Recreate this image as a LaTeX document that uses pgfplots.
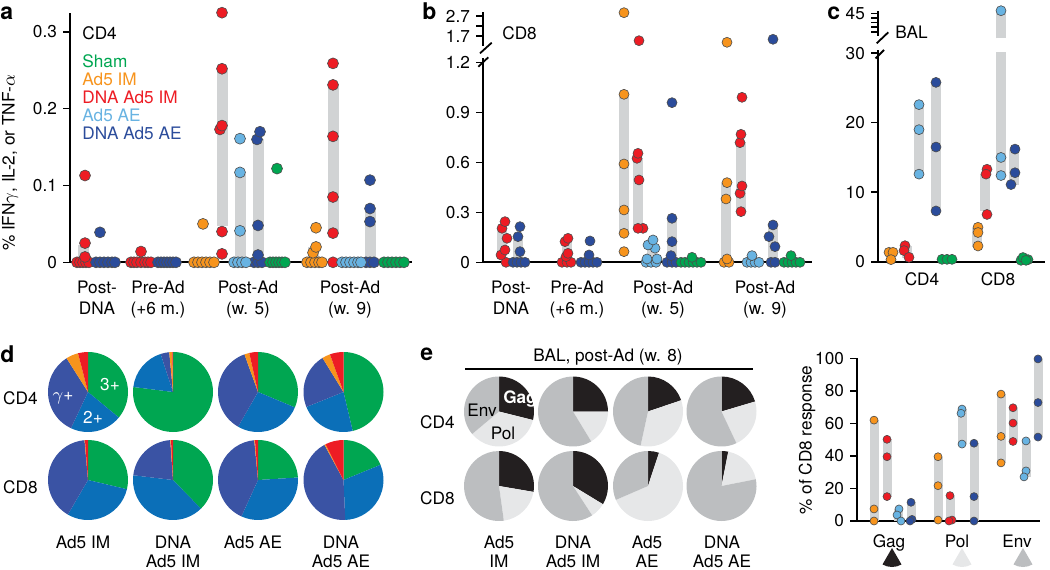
\documentclass[border=0pt]{standalone}
\usepackage{pgfplots}
\pgfplotsset{compat=1.18}
\usepackage{fontspec}
\setmainfont{TeX Gyre Heros}
\newcommand\fs{\fontsize{8.6}{9.6}\selectfont}
\definecolor{cgreen}{HTML}{00A651}
\definecolor{corange}{HTML}{F7941D}
\definecolor{cred}{HTML}{ED1C24}
\definecolor{clblue}{HTML}{68B3E2}
\definecolor{cdblue}{HTML}{2B4C9B}
\definecolor{pblue}{HTML}{0B6FB8}
\definecolor{pdblue}{HTML}{3A53A4}
\definecolor{gbar}{HTML}{D1D3D4}
\definecolor{gag}{HTML}{231F20}
\definecolor{pol}{HTML}{E6E7E8}
\definecolor{env}{HTML}{BCBEC0}
\pgfplotsset{
  base/.style={scale only axis, axis lines=left, axis line style={-, line width=0.9pt},
    clip=false, tick align=outside, major tick length=3.5pt,
    ytick style={line width=0.8pt, black}, xtick style={draw=none},
    scaled ticks=false, /pgf/number format/assume math mode=true,
    tick label style={font=\fs}, xticklabel style={align=center, yshift=1pt}},
  twoline/.style={xticklabel style={font=\fontsize{8.6}{10.2}\selectfont, yshift=-4pt}},
  upper/.style={base, x axis line style={draw=none}, xtick=\empty},
  dt/.style 2 args={only marks, mark=*, mark size=#2, mark options={fill=#1, draw=black!70, line width=0.3pt}},
}
\newcommand\gb[4]{\addplot[draw=gbar, line width=#4, forget plot] coordinates {(#1,#2) (#1,#3)};}
\newcommand\pie[4]{%
  \gdef\pieS{90}%
  \foreach \v/\c in {#4}{%
    \pgfmathsetmacro\pieE{\pieS-3.6*\v}%
    \fill[color=\c] (#1,#2) -- ++(\pieS:#3) arc[start angle=\pieS, end angle=\pieE, radius=#3] -- cycle;%
    \xdef\pieS{\pieE}%
  }%
}
\begin{document}
\fs
\begin{tikzpicture}
\useasboundingbox (0,0) rectangle (525pt,284.5pt);

% ---------------- panel a ----------------
\begin{axis}[base, twoline, at={(35pt,153.35pt)}, anchor=south west, width=171pt, height=124.65pt,
  xmin=70, xmax=412, ymin=0, ymax=0.3246, ytick={0,0.1,0.2,0.3},
  xtick={97,158,248,350}, xticklabels={{Post-\\DNA},{Pre-Ad\\(+6 m.)},{Post-Ad\\(w. 5)},{Post-Ad\\(w. 9)}}]
\gb{83}{0}{0.022}{5.5pt}
\gb{222}{0.047}{0.25}{5.5pt}
\gb{240}{0}{0.115}{5.5pt}
\gb{258}{0}{0.16}{5.5pt}
\gb{313}{0}{0.02}{5.5pt}
\gb{333}{0.04}{0.23}{5.5pt}
\gb{370}{0}{0.07}{5.5pt}
\addplot[dt={cred}{2.75pt}] coordinates {(77,0) (80,0) (83,0) (86,0) (89,0) (85,0.007) (85,0.025) (85,0.113)
  (131,0) (134,0) (137,0) (141,0) (145,0) (148,0) (151,0) (141,0.014)
  (222,0.011) (222,0.040) (220,0.173) (222,0.178) (222,0.252) (222,0.325)
  (333,0) (333,0.038) (333,0.085) (333,0.164) (333,0.231) (333,0.259)};
\addplot[dt={cdblue}{2.75pt}] coordinates {(96,0) (100,0) (104,0) (108,0) (112,0) (115,0) (100,0.039)
  (158,0) (161,0) (164,0) (167,0) (170,0) (173,0) (176,0)
  (254,0) (258,0) (262,0) (258,0.0095) (258,0.048) (257,0.160) (260,0.170)
  (366,0) (370,0) (374,0) (370,0.053) (370,0.070) (370,0.107)};
\addplot[dt={corange}{2.75pt}] coordinates {(194,0) (198,0) (202,0) (206,0) (210,0) (214,0) (203,0.050)
  (307,0) (311,0) (315,0) (319,0) (322,0) (313,0.0125) (316,0.020) (316,0.045)};
\addplot[dt={clblue}{2.75pt}] coordinates {(234,0) (238,0) (242,0) (246,0) (240,0.041) (240,0.117) (240,0.161)
  (342,0) (346,0) (350,0) (354,0) (358,0) (361,0)};
\addplot[dt={cgreen}{2.75pt}] coordinates {(270,0) (273,0) (276,0) (279,0) (282,0) (285,0) (277,0.122)
  (384,0) (388,0) (392,0) (396,0) (400,0) (404,0)};
\end{axis}

% ---------------- panel b ----------------
\begin{axis}[base, twoline, at={(241.5pt,153.35pt)}, anchor=south west, width=164.5pt, height=102.15pt,
  xmin=483, xmax=812, ymin=0, ymax=1.226, ytick={0,0.3,0.6,0.9,1.2},
  xtick={511,577,663,765}, xticklabels={{Post-\\DNA},{Pre-Ad\\(+6 m.)},{Post-Ad\\(w. 5)},{Post-Ad\\(w. 9)}}]
\gb{502}{0.04}{0.2}{5pt}
\gb{518}{0}{0.15}{5pt}
\gb{567}{0}{0.124}{5pt}
\gb{624}{0.174}{1.008}{5pt}
\gb{638}{0.204}{0.624}{5pt}
\gb{652}{0}{0.09}{5pt}
\gb{672}{0}{0.264}{5pt}
\gb{726}{0}{0.478}{5pt}
\gb{741}{0.30}{0.72}{5pt}
\gb{773}{0}{0.224}{5pt}
\addplot[dt={cred}{2.5pt}] coordinates {(506,0) (501,0.044) (505,0.074) (507,0.144) (502,0.204) (505,0.244)
  (562,0) (567,0) (571,0) (566,0.034) (568,0.054) (565,0.124) (568,0.144)
  (643,0.204) (638,0.204) (639,0.494) (637,0.624) (638,0.654)
  (741,0.304) (740,0.414) (742,0.458) (740,0.718) (741,0.768) (742,0.99)};
\addplot[dt={cdblue}{2.5pt}] coordinates {(513,0) (517,0) (521,0) (525,0) (520,0.064) (518,0.154) (520,0.214)
  (581,0) (585,0) (589,0) (593,0) (597,0) (589,0.044) (590,0.128)
  (667,0) (672,0) (676,0) (671,0.04) (672,0.124) (672,0.264) (672,0.958)
  (771,0) (775,0) (775,0.094) (769,0.154) (773,0.224)};
\addplot[dt={corange}{2.5pt}] coordinates {(624,0.064) (624,0.174) (624,0.314) (624,0.59) (624,1.008)
  (724,0) (729,0) (727,0.02) (726,0.38) (727,0.478)};
\addplot[dt={clblue}{2.5pt}] coordinates {(646,0) (651,0) (656,0) (647,0.02) (657,0.02) (655,0.085) (648,0.104) (653,0.134)
  (747,0) (751,0) (755,0) (759,0) (752,0.04)};
\addplot[dt={cgreen}{2.5pt}] coordinates {(681,0) (685,0) (689,0) (693,0) (697,0) (701,0) (692,0.03)
  (784,0) (788,0) (792,0) (796,0) (800,0) (791,0.04)};
\end{axis}
\begin{axis}[upper, at={(241.5pt,261.5pt)}, anchor=south west, width=164.5pt, height=17pt,
  xmin=483, xmax=812, ymin=1.2, ymax=2.9, ytick={1.7,2.2,2.7}, yticklabels={1.7,,2.7}]
\addplot[dt={corange}{2.5pt}] coordinates {(624,2.865) (727,1.385)};
\addplot[dt={cred}{2.5pt}] coordinates {(639,1.465)};
\addplot[dt={cdblue}{2.5pt}] coordinates {(773,1.535)};
\end{axis}

% ---------------- panel c ----------------
\begin{axis}[base, at={(439pt,153.65pt)}, anchor=south west, width=83.5pt, height=105.85pt,
  xmin=878, xmax=1045, ymin=0, ymax=30.46, ytick={0,10,20,30},
  xtick={922,998}, xticklabels={CD4,CD8}]
\gb{907}{0.6}{2.2}{5pt}
\gb{919}{12.6}{22.6}{5pt}
\gb{936}{7.3}{25.8}{5pt}
\gb{977}{2.1}{4.8}{5pt}
\gb{985}{7.3}{12.6}{5pt}
\gb{1001}{12.4}{30.2}{5pt}
\gb{1014}{11}{16}{5pt}
\addplot[dt={corange}{2.5pt}] coordinates {(889,1.35) (893,1.35) (891,0.3) (978,4.95) (978,4.2) (978,2.26)};
\addplot[dt={cred}{2.5pt}] coordinates {(905,2.3) (904,1.6) (909,0.63) (987,13.3) (986,12.6) (987,6.8)};
\addplot[dt={clblue}{2.5pt}] coordinates {(919,22.6) (919,19.0) (919,12.6) (1001,15.0) (1001,12.4)};
\addplot[dt={cdblue}{2.5pt}] coordinates {(936,25.8) (936,16.5) (936,7.3) (1011,11.1) (1015,16.2) (1015,12.8)};
\addplot[dt={cgreen}{2.5pt}] coordinates {(942,0.34) (947,0.34) (952,0.34) (1021,0.2) (1028,0.3) (1023,0.6) (1026,0.2)};
\end{axis}
\begin{axis}[upper, at={(439pt,266.5pt)}, anchor=south west, width=83.5pt, height=12.5pt,
  xmin=878, xmax=1045, ymin=40.11, ymax=45.54, ytick={41,42,43,44,45}, yticklabels={,,,,45}]
\gb{1001}{39.6}{45.6}{5pt}
\addplot[dt={clblue}{2.5pt}] coordinates {(1001,45.6)};
\end{axis}

% ---------------- panel e (right) ----------------
\begin{axis}[base, at={(428.5pt,24pt)}, anchor=south west, width=91.5pt, height=81.35pt,
  xmin=857, xmax=1040, ymin=0, ymax=100, ytick={0,20,40,60,80,100},
  xtick={889,957,1017}, xticklabels={Gag,Pol,Env}, xticklabel style={yshift=-1.5pt}]
\gb{874}{0}{62}{4.5pt}
\gb{887}{15}{50.2}{4.5pt}
\gb{898}{0}{7.4}{4.5pt}
\gb{911}{0}{11.5}{4.5pt}
\gb{938}{0.6}{39.5}{4.5pt}
\gb{950}{0}{15.6}{4.5pt}
\gb{962}{47.3}{68.8}{4.5pt}
\gb{974}{0}{47.8}{4.5pt}
\gb{1001}{35.7}{78}{4.5pt}
\gb{1013}{48.9}{69.6}{4.5pt}
\gb{1026}{27.1}{49.2}{4.5pt}
\gb{1038}{51.6}{99.6}{4.5pt}
\addplot[dt={corange}{2pt}] coordinates {(874,62) (874,7.4) (874,0) (938,39.5) (938,21.7) (938,0.6) (1001,78) (1001,52) (1001,35.7)};
\addplot[dt={cred}{2pt}] coordinates {(887,50.2) (887,39.5) (887,15) (950,15.6) (952,0.6) (949,0) (1013,69.6) (1013,60.2) (1013,48.9)};
\addplot[dt={clblue}{2pt}] coordinates {(899,7.4) (897,3.7) (901,0) (962,68.8) (961,66.2) (962,47.3) (1026,49.2) (1026,30.8) (1024,27.1)};
\addplot[dt={cdblue}{2pt}] coordinates {(911,11.5) (912,1) (910,0) (974,47.8) (974,15) (974,0) (1038,99.6) (1038,72.8) (1038,51.6)};
\end{axis}

% axis breaks
\draw[line width=0.9pt] (240pt,257.85pt) -- (245.85pt,263.15pt);
\draw[line width=0.9pt] (239.15pt,251.15pt) -- (244.15pt,255.85pt);
\draw[line width=0.9pt] (438.35pt,262.85pt) -- (444.15pt,268.35pt);
\draw[line width=0.9pt] (437.75pt,255.25pt) -- (442pt,259.5pt);

% panel letters
\node[anchor=base west, inner sep=0, font=\fontsize{11.5}{12}\bfseries] at (0pt,274.5pt) {a};
\node[anchor=base west, inner sep=0, font=\fontsize{11.5}{12}\bfseries] at (211pt,274.5pt) {b};
\node[anchor=base west, inner sep=0, font=\fontsize{11.5}{12}\bfseries] at (413.5pt,274.5pt) {c};
\node[anchor=base west, inner sep=0, font=\fontsize{11.5}{12}\bfseries] at (0pt,103.5pt) {d};
\node[anchor=base west, inner sep=0, font=\fontsize{11.5}{12}\bfseries] at (210pt,104.5pt) {e};

% panel a texts
\node[rotate=90] at (5pt,203pt) {\% IFN$\gamma$, IL-2, or TNF-$\alpha$};
\node[anchor=west, inner sep=0] at (41pt,268pt) {CD4};
\node[anchor=west, inner sep=0, text=cgreen] at (41pt,254pt) {Sham};
\node[anchor=west, inner sep=0, text=corange] at (41pt,245pt) {Ad5 IM};
\node[anchor=west, inner sep=0, text=cred] at (41pt,236pt) {DNA Ad5 IM};
\node[anchor=west, inner sep=0, text=clblue] at (41pt,227pt) {Ad5 AE};
\node[anchor=west, inner sep=0, text=cdblue] at (41pt,218pt) {DNA Ad5 AE};
\node[anchor=west, inner sep=0] at (251pt,268pt) {CD8};
\node[anchor=west, inner sep=0] at (447.5pt,268.2pt) {BAL};

% panel d pies
\pie{44pt}{88.5pt}{20pt}{36/cgreen,21/pblue,34/pdblue,5/corange,4/cred}
\pie{86.5pt}{88.5pt}{20pt}{77/cgreen,18/pblue,3.5/pdblue,1.2/corange,0.3/cred}
\pie{129pt}{88.5pt}{20pt}{31.3/cgreen,27/pblue,36.2/pdblue,2/corange,3.5/cred}
\pie{171.75pt}{88.5pt}{20pt}{46.3/cgreen,22.6/pblue,22.3/pdblue,3.3/corange,5.5/cred}
\pie{44pt}{44.5pt}{20pt}{28.7/cgreen,29.7/pblue,40.2/pdblue,0.2/corange,1.2/cred}
\pie{86.5pt}{44.5pt}{20pt}{37.7/cgreen,39.2/pblue,22/pdblue,0.3/corange,0.8/cred}
\pie{129pt}{44.5pt}{20pt}{24/cgreen,32.8/pblue,41.7/pdblue,0.3/corange,1.2/cred}
\pie{171.75pt}{44.5pt}{20pt}{18.8/cgreen,30.5/pblue,42.8/pdblue,0.5/corange,7.4/cred}
\node[text=white] at (55pt,92pt) {3+};
\node[text=white] at (31.5pt,85.5pt) {$\gamma$+};
\node[text=white] at (46.5pt,76pt) {2+};
\node[anchor=east, inner sep=0] at (19pt,85.5pt) {CD4};
\node[anchor=east, inner sep=0] at (19pt,41pt) {CD8};
\node[anchor=base, inner sep=0] at (41.5pt,10.5pt) {Ad5 IM};
\node[anchor=base, inner sep=0] at (86.5pt,10.5pt) {DNA};
\node[anchor=base, inner sep=0] at (86.5pt,1pt) {Ad5 IM};
\node[anchor=base, inner sep=0] at (126.5pt,10.5pt) {Ad5 AE};
\node[anchor=base, inner sep=0] at (170.5pt,10.5pt) {DNA};
\node[anchor=base, inner sep=0] at (170.5pt,1pt) {Ad5 AE};

% panel e pies
\node at (304pt,106pt) {BAL, post-Ad (w. 8)};
\draw[line width=0.8pt] (232.5pt,100pt) -- (376.5pt,100pt);
\pie{249.5pt}{78.75pt}{17.5pt}{28.9/gag,35/pol,36.1/env}
\pie{286.5pt}{78.75pt}{17.5pt}{25/gag,16.3/pol,58.7/env}
\pie{324pt}{78.75pt}{17.5pt}{19.8/gag,33.6/pol,46.6/env}
\pie{360.75pt}{78.75pt}{17.5pt}{20.4/gag,22.6/pol,57/env}
\pie{249.5pt}{41.5pt}{17.5pt}{27.7/gag,20.1/pol,52.2/env}
\pie{286.5pt}{41.5pt}{17.5pt}{33.7/gag,7.1/pol,59.2/env}
\pie{324pt}{41.5pt}{17.5pt}{5.1/gag,63.4/pol,31.5/env}
\pie{360.75pt}{41.5pt}{17.5pt}{3.1/gag,18.8/pol,78.1/env}
\node[text=white, font=\fs\bfseries] at (260pt,85pt) {Gag};
\node at (241pt,79.5pt) {Env};
\node at (251.5pt,68pt) {Pol};
\node[anchor=east, inner sep=0] at (227.5pt,73.5pt) {CD4};
\node[anchor=east, inner sep=0] at (227.5pt,35.5pt) {CD8};
\node[anchor=base, inner sep=0] at (249.5pt,10.5pt) {Ad5};
\node[anchor=base, inner sep=0] at (249.5pt,1pt) {IM};
\node[anchor=base, inner sep=0] at (286.5pt,10.5pt) {DNA};
\node[anchor=base, inner sep=0] at (286.5pt,1pt) {Ad5 IM};
\node[anchor=base, inner sep=0] at (323.5pt,10.5pt) {Ad5};
\node[anchor=base, inner sep=0] at (323.5pt,1pt) {AE};
\node[anchor=base, inner sep=0] at (361pt,10.5pt) {DNA};
\node[anchor=base, inner sep=0] at (361pt,1pt) {Ad5 AE};

% panel e scatter extras
\node[rotate=90] at (403.5pt,64.5pt) {\% of CD8 response};
\fill[gag] (446pt,10.5pt) -- ++(-120:9.5pt) arc[start angle=-120, end angle=-60, radius=9.5pt] -- cycle;
\fill[pol] (481pt,10.5pt) -- ++(-120:9.5pt) arc[start angle=-120, end angle=-60, radius=9.5pt] -- cycle;
\fill[env] (511.5pt,10.5pt) -- ++(-120:9.5pt) arc[start angle=-120, end angle=-60, radius=9.5pt] -- cycle;
\end{tikzpicture}
\end{document}
